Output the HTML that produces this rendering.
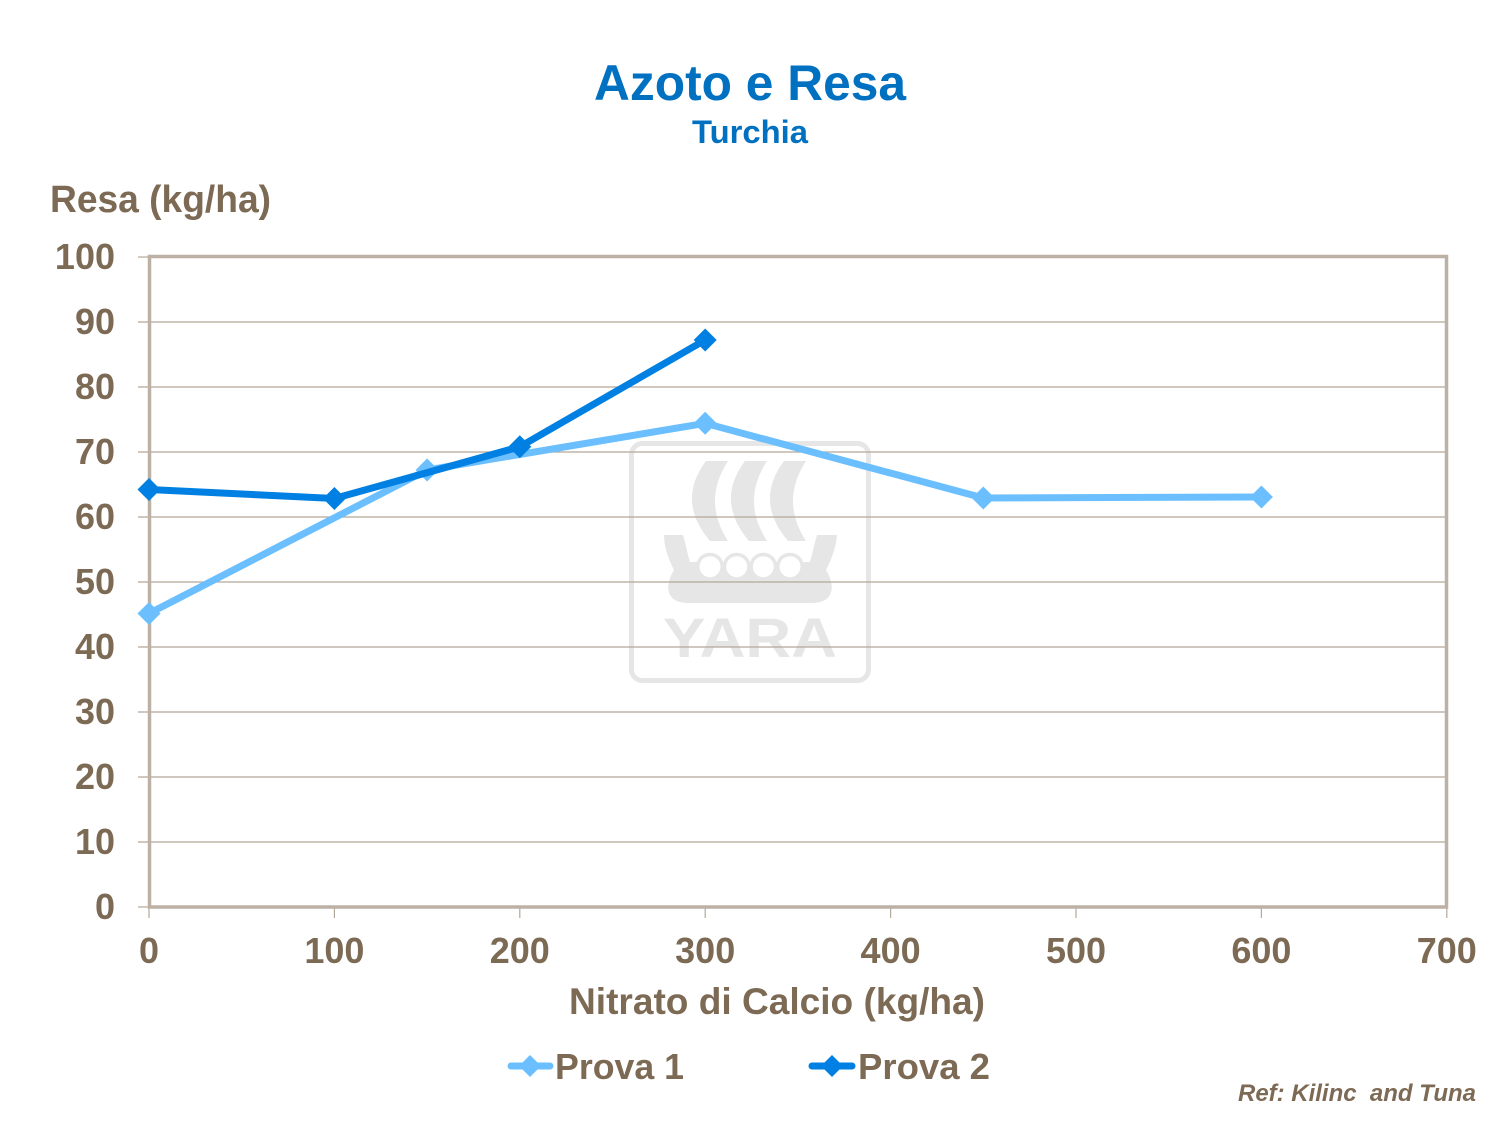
<!DOCTYPE html>
<html>
<head>
<meta charset="utf-8">
<style>
  html, body { margin: 0; padding: 0; background: #ffffff; }
  svg { display: block; }
  text { font-family: "Liberation Sans", Arial, sans-serif; font-weight: bold; }
</style>
</head>
<body>
<svg width="1500" height="1125" viewBox="0 0 1500 1125" xmlns="http://www.w3.org/2000/svg">
  <rect x="0" y="0" width="1500" height="1125" fill="#ffffff"/>

  <!-- Title -->
  <text x="750" y="100" text-anchor="middle" font-size="50" fill="#0070c0" textLength="312" lengthAdjust="spacingAndGlyphs">Azoto e Resa</text>
  <text x="750" y="143" text-anchor="middle" font-size="32" fill="#0070c0" textLength="116" lengthAdjust="spacingAndGlyphs">Turchia</text>

  <!-- Y axis title -->
  <text x="50" y="212" font-size="38" fill="#7d6a55" textLength="221" lengthAdjust="spacingAndGlyphs">Resa (kg/ha)</text>

  <!-- Watermark logo -->
  <g fill="#e6e6e6">
    <rect x="631.5" y="443.5" width="237" height="237" rx="11" ry="11" fill="none" stroke="#e6e6e6" stroke-width="5"/>
    <path d="M706,461 Q676,501 710,541 L728,541 Q702,501 728,461 Z"/>
    <path d="M745,461 Q715,501 749,541 L767,541 Q741,501 767,461 Z"/>
    <path d="M784,461 Q754,501 788,541 L806,541 Q780,501 806,461 Z"/>
    <path d="M664,535 H683 C686,545 688,556 690,562 H810 C812,556 814,545 817,535 H837 C836,548 831,560 826,570 C836,586 834,603 812,603 H688 C666,603 664,586 674,570 C669,560 664,548 664,535 Z"/>
    <circle cx="710" cy="566.7" r="14"/>
    <circle cx="736.7" cy="566.7" r="14"/>
    <circle cx="763.3" cy="566.7" r="14"/>
    <circle cx="790" cy="566.7" r="14"/>
    <circle cx="710" cy="566.7" r="10.5" fill="#ffffff"/>
    <circle cx="736.7" cy="566.7" r="10.5" fill="#ffffff"/>
    <circle cx="763.3" cy="566.7" r="10.5" fill="#ffffff"/>
    <circle cx="790" cy="566.7" r="10.5" fill="#ffffff"/>
    <text x="750" y="657" text-anchor="middle" font-size="56" fill="#e6e6e6" textLength="174" lengthAdjust="spacingAndGlyphs">YARA</text>
  </g>

  <!-- Gridlines -->
  <g stroke="#b4a898" stroke-width="1.2">
    <line x1="138" y1="322" x2="1446" y2="322"/>
    <line x1="138" y1="387" x2="1446" y2="387"/>
    <line x1="138" y1="452" x2="1446" y2="452"/>
    <line x1="138" y1="517" x2="1446" y2="517"/>
    <line x1="138" y1="582" x2="1446" y2="582"/>
    <line x1="138" y1="647" x2="1446" y2="647"/>
    <line x1="138" y1="712" x2="1446" y2="712"/>
    <line x1="138" y1="777" x2="1446" y2="777"/>
    <line x1="138" y1="842" x2="1446" y2="842"/>
    <line x1="138" y1="257" x2="149" y2="257"/>
    <line x1="138" y1="907" x2="149" y2="907"/>
  </g>
  <!-- X ticks -->
  <g stroke="#b4a898" stroke-width="1.2">
    <line x1="149" y1="907" x2="149" y2="918"/>
    <line x1="334.4" y1="907" x2="334.4" y2="918"/>
    <line x1="519.8" y1="907" x2="519.8" y2="918"/>
    <line x1="705.2" y1="907" x2="705.2" y2="918"/>
    <line x1="890.6" y1="907" x2="890.6" y2="918"/>
    <line x1="1076" y1="907" x2="1076" y2="918"/>
    <line x1="1261.4" y1="907" x2="1261.4" y2="918"/>
    <line x1="1446.8" y1="907" x2="1446.8" y2="918"/>
  </g>

  <!-- Plot border -->
  <rect x="149.5" y="256.5" width="1297" height="650.5" fill="none" stroke="#bcb1a4" stroke-width="3.5"/>

  <!-- Y tick labels -->
  <g font-size="36" fill="#7d6a55" text-anchor="end">
    <text x="115" y="269">100</text>
    <text x="115" y="334">90</text>
    <text x="115" y="399">80</text>
    <text x="115" y="464">70</text>
    <text x="115" y="529">60</text>
    <text x="115" y="594">50</text>
    <text x="115" y="659">40</text>
    <text x="115" y="724">30</text>
    <text x="115" y="789">20</text>
    <text x="115" y="854">10</text>
    <text x="115" y="919">0</text>
  </g>

  <!-- X tick labels -->
  <g font-size="36" fill="#7d6a55" text-anchor="middle">
    <text x="149" y="963">0</text>
    <text x="334.4" y="963">100</text>
    <text x="519.8" y="963">200</text>
    <text x="705.2" y="963">300</text>
    <text x="890.6" y="963">400</text>
    <text x="1076" y="963">500</text>
    <text x="1261.4" y="963">600</text>
    <text x="1446.8" y="963">700</text>
  </g>

  <!-- X axis title -->
  <text x="777" y="1014" text-anchor="middle" font-size="37" fill="#7d6a55" textLength="416" lengthAdjust="spacingAndGlyphs">Nitrato di Calcio (kg/ha)</text>

  <!-- Series Prova 1 -->
  <polyline points="149,613.5 427.1,470 705.2,423.3 983.3,498 1261.4,497" fill="none" stroke="#6bbfff" stroke-width="7" stroke-linejoin="miter"/>
  <g fill="#6bbfff">
    <path d="M149,602 L160.5,613.5 L149,625 L137.5,613.5 Z"/>
    <path d="M427.1,458.5 L438.6,470 L427.1,481.5 L415.6,470 Z"/>
    <path d="M705.2,411.8 L716.7,423.3 L705.2,434.8 L693.7,423.3 Z"/>
    <path d="M983.3,486.5 L994.8,498 L983.3,509.5 L971.8,498 Z"/>
    <path d="M1261.4,485.5 L1272.9,497 L1261.4,508.5 L1249.9,497 Z"/>
  </g>

  <!-- Series Prova 2 -->
  <polyline points="149,489.5 334.4,498.5 519.8,446.8 705.2,340" fill="none" stroke="#0080e2" stroke-width="7" stroke-linejoin="miter"/>
  <g fill="#0080e2">
    <path d="M149,478 L160.5,489.5 L149,501 L137.5,489.5 Z"/>
    <path d="M334.4,487 L345.9,498.5 L334.4,510 L322.9,498.5 Z"/>
    <path d="M519.8,435.3 L531.3,446.8 L519.8,458.3 L508.3,446.8 Z"/>
    <path d="M705.2,328.5 L716.7,340 L705.2,351.5 L693.7,340 Z"/>
  </g>

  <!-- Legend -->
  <line x1="511" y1="1066" x2="550" y2="1066" stroke="#6bbfff" stroke-width="7" stroke-linecap="round"/>
  <path d="M530,1055 L541,1066 L530,1077 L519,1066 Z" fill="#6bbfff"/>
  <text x="555" y="1079" font-size="36" fill="#7d6a55" textLength="129" lengthAdjust="spacingAndGlyphs">Prova 1</text>

  <line x1="812" y1="1066" x2="852" y2="1066" stroke="#0080e2" stroke-width="7" stroke-linecap="round"/>
  <path d="M832,1055 L843,1066 L832,1077 L821,1066 Z" fill="#0080e2"/>
  <text x="858" y="1079" font-size="36" fill="#7d6a55" textLength="132" lengthAdjust="spacingAndGlyphs">Prova 2</text>

  <!-- Reference -->
  <text x="1238" y="1101" font-size="24" font-style="italic" fill="#7d6a55" textLength="238" lengthAdjust="spacingAndGlyphs" xml:space="preserve">Ref: Kilinc  and Tuna</text>
</svg>
</body>
</html>
